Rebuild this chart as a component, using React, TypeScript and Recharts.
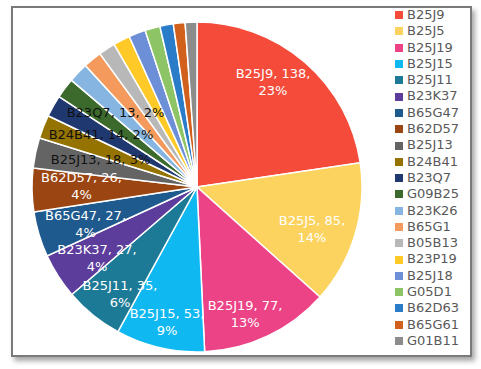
import React from "react";
import { PieChart, Pie, Cell, Legend } from "recharts";

const categories = [
  "B25J9", "B25J5", "B25J19", "B25J15", "B25J11", "B23K37", "B65G47", "B62D57",
  "B25J13", "B24B41", "B23Q7", "G09B25", "B23K26", "B65G1", "B05B13", "B23P19",
  "B25J18", "G05D1", "B62D63", "B65G61", "G01B11",
];
const counts = [138, 85, 77, 53, 35, 27, 27, 26, 18, 14, 13, 12, 12, 11, 10, 10, 10, 9, 8, 7, 7];
const colors = [
  "#F44B3B", "#FCD35E", "#EC4386", "#10B8F2", "#1D7A96", "#5C3D9C", "#1F5A8E", "#9A4512",
  "#646464", "#957300", "#1F3870", "#3C6A2C", "#86B5E2", "#F39A5C", "#B8B8B8", "#FFC928",
  "#6C8FD8", "#8DC466", "#2A7BC8", "#D0601C", "#8C8C8C",
];
// label placement (fraction of radius, angle offset in degrees) for labelled slices
const labelRadius = [0.788, 0.741, 0.82, 0.838, 0.796, 0.743, 0.71, 0.7, 0.609, 0.662, 0.671];
const labelAngleShift = [5.0, -3.1, -4.6, 0.5, 3.1, 2.7, 1.2, -2, -4.2, -7, -13.2];
const darkLabels = ["B25J13", "B24B41", "B23Q7"];

const data = categories.map((name, i) => ({ name, value: counts[i] }));

const FONT = "'DejaVu Sans', sans-serif";
const RAD = Math.PI / 180;

const renderLabel = (props: any) => {
  const { cx, cy, midAngle, outerRadius, index, name, value, percent } = props;
  if (index >= labelRadius.length) return null;
  const ang = (midAngle + labelAngleShift[index]) * RAD;
  const r = outerRadius * labelRadius[index];
  const x = cx + r * Math.cos(ang);
  const y = cy - r * Math.sin(ang);
  const pct = Math.round(percent * 100) + "%";
  const dark = darkLabels.includes(name);
  const fill = dark ? "#111" : "#fff";
  if (value < 20) {
    return (
      <text x={x} y={y} fill={fill} fontSize={13} fontFamily={FONT} textAnchor="middle" dominantBaseline="central">
        {`${name}, ${value}, ${pct}`}
      </text>
    );
  }
  return (
    <text x={x} y={y} fill={fill} fontSize={13} fontFamily={FONT} textAnchor="middle" dominantBaseline="central">
      <tspan x={x} dy={-8.5}>{`${name}, ${value},`}</tspan>
      <tspan x={x} dy={17}>{pct}</tspan>
    </text>
  );
};

const renderLegend = () => (
  <div style={{ fontFamily: FONT, fontSize: 13, color: "#595959" }}>
    {categories.map((c, i) => (
      <div key={c} style={{ height: 16.3, display: "flex", alignItems: "center" }}>
        <span style={{ width: 8, height: 8, background: colors[i], display: "inline-block", marginRight: 4 }} />
        <span style={{ lineHeight: "16.3px" }}>{c}</span>
      </div>
    ))}
  </div>
);

export default function App() {
  return (
    <div style={{ position: "absolute", left: 0, top: 0, width: 481, height: 369, background: "#fff", overflow: "hidden" }}>
      <div
        style={{
          position: "absolute",
          left: 11,
          top: 6,
          width: 457,
          height: 347,
          border: "2px solid #7a7a7a",
          boxShadow: "3px 4px 5px rgba(0,0,0,0.35)",
          background: "#fff",
        }}
      />
      <div style={{ position: "absolute", left: 0, top: 0 }}>
        <PieChart width={481} height={369} margin={{ top: 0, right: 0, bottom: 0, left: 0 }}>
          <Pie
            data={data}
            dataKey="value"
            nameKey="name"
            cx={197}
            cy={187}
            outerRadius={165}
            startAngle={90}
            endAngle={-270}
            stroke="#fff"
            strokeWidth={1.5}
            label={renderLabel}
            labelLine={false}
            isAnimationActive={false}
          >
            {data.map((d, i) => (
              <Cell key={d.name} fill={colors[i]} />
            ))}
          </Pie>
          <Legend
            content={renderLegend}
            wrapperStyle={{ position: "absolute", left: 395, top: 7, width: 80 }}
          />
        </PieChart>
      </div>
    </div>
  );
}
